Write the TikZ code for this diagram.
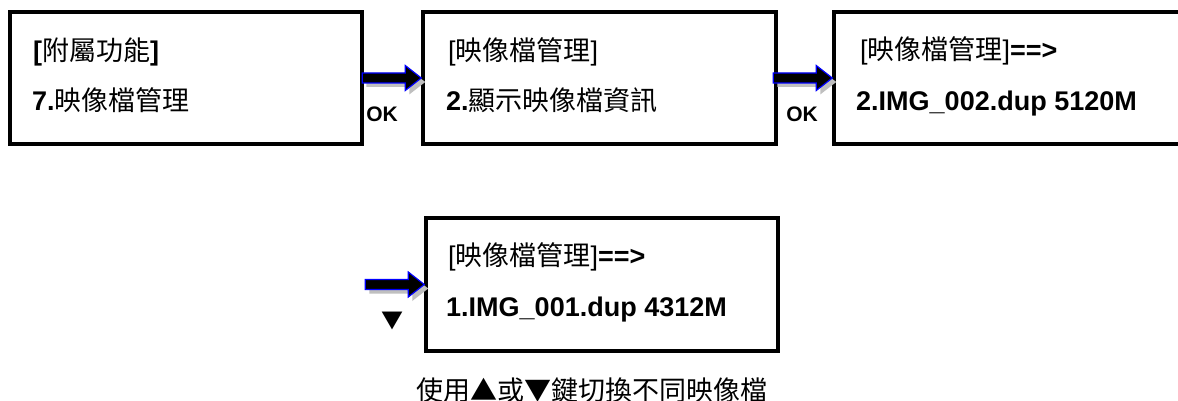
\documentclass[tikz,border=0pt]{standalone}
\usepackage{fontspec}
\setmainfont{Liberation Sans}
\newfontfamily\cjk{Noto Sans CJK TC}
\usetikzlibrary{calc}
\newcommand\C[1]{{\cjk\mdseries #1}}
\newcommand\arrowpath{(-59,-5) -- (-16,-5) -- (-16,-12.5) -- (0,0) -- (-16,12.5) -- (-16,5) -- (-59,5) -- cycle}
\newcommand\fatarrow[1]{%
  \begin{scope}[shift={(#1)}]
    \fill[arrowshadow, shift={(4,4)}] \arrowpath;
    \filldraw[arrowbody] \arrowpath;
  \end{scope}}
\tikzset{
  screen/.style={draw=black, line width=3.5pt, fill=white, inner sep=0pt},
  txt/.style={anchor=base west, inner sep=0pt, font=\fontsize{27}{30}\selectfont},
  oklabel/.style={anchor=base, inner sep=0pt, font=\fontsize{21}{24}\selectfont\bfseries},
  arrowshadow/.style={fill=black!25},
  arrowbody/.style={fill=black, draw=blue, line width=1.2pt, line join=miter},
}
\begin{document}
\begin{tikzpicture}[x=1pt, y=-1pt]
\clip (0,0) rectangle (1178,401);
\fill[white] (0,0) rectangle (1178,401);

% screens
\node[screen, minimum width=352pt, minimum height=132pt] (b1) at (186,78) {};
\node[screen, minimum width=353pt, minimum height=132pt] (b2) at (599.5,78) {};
\node[screen, minimum width=350pt, minimum height=132pt] (b3) at (1009,78) {};
\node[screen, minimum width=352pt, minimum height=133pt] (b4) at (602,284.5) {};

% texts
\node[txt] (t1a) at (33,61) {\bfseries[\C{附屬功能}]};
\node[txt] (t1b) at (32,111) {\bfseries 7.\C{映像檔管理}};
\node[txt] (t2a) at (448,61) {[\C{映像檔管理}]};
\node[txt] (t2b) at (446,111) {\bfseries 2.\C{顯示映像檔資訊}};
\node[txt] (t3a) at (860,60) {[\C{映像檔管理}]\bfseries ==>};
\node[txt] (t3b) at (856,111) {\bfseries 2.IMG\_002.dup 5120M};
\node[txt] (t4a) at (448,265) {[\C{映像檔管理}]\bfseries ==>};
\node[txt] (t4b) at (446,316) {\bfseries 1.IMG\_001.dup 4312M};

% arrows
\fatarrow{b2.west}
\fatarrow{b3.west}
\fatarrow{b4.west}

% labels
\node[oklabel] (ok1) at (382,122) {OK};
\node[oklabel] (ok2) at (802,122) {OK};
\node[inner sep=0pt, font=\fontsize{22}{24}\selectfont] (down) at (392,321) {\C{▼}};
\node[anchor=base, inner sep=0pt, font=\fontsize{27}{30}\selectfont] (cap) at (592,400) {\C{使用▲或▼鍵切換不同映像檔}};
\end{tikzpicture}
\end{document}
